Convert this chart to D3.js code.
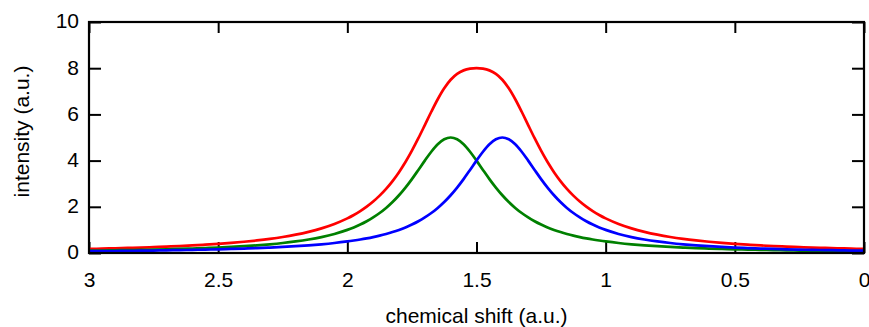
<!DOCTYPE html>
<html>
<head>
<meta charset="utf-8">
<script src="https://cdn.jsdelivr.net/npm/d3@7"></script>
<style>
  html, body { margin: 0; padding: 0; background: #fff; }
  svg { display: block; }
  text { font-family: "Liberation Sans", Arial, Helvetica, sans-serif; }
</style>
</head>
<body>
<svg id="chart" width="869" height="327"></svg>
<script>
// chemical shift positions (a.u.)
const shift = [0.00,0.05,0.10,0.15,0.20,0.25,0.30,0.35,0.40,0.45,0.50,0.55,0.60,0.65,0.70,0.75,0.80,0.85,0.90,0.95,
  1.000,1.025,1.050,1.075,1.100,1.125,1.150,1.175,1.200,1.225,1.250,1.275,1.300,1.325,1.350,1.375,1.400,1.425,1.450,1.475,
  1.500,1.525,1.550,1.575,1.600,1.625,1.650,1.675,1.700,1.725,1.750,1.775,1.800,1.825,1.850,1.875,1.900,1.925,1.950,1.975,
  2.000,2.05,2.10,2.15,2.20,2.25,2.30,2.35,2.40,2.45,2.50,2.55,2.60,2.65,2.70,2.75,2.80,2.85,2.90,2.95,3.00];

// green peak (centred near 1.6)
const greenPeak = [0.077,0.082,0.087,0.093,0.100,0.107,0.116,0.125,0.135,0.147,0.160,0.175,0.192,0.212,0.235,0.262,0.294,0.332,0.377,0.432,
  0.500,0.540,0.584,0.634,0.690,0.753,0.825,0.907,1.000,1.107,1.231,1.373,1.538,1.730,1.951,2.207,2.500,2.832,3.200,3.596,
  4.000,4.384,4.706,4.923,5.000,4.923,4.706,4.384,4.000,3.596,3.200,2.832,2.500,2.207,1.951,1.730,1.538,1.373,1.231,1.107,
  1.000,0.825,0.690,0.584,0.500,0.432,0.377,0.332,0.294,0.262,0.235,0.212,0.192,0.175,0.160,0.147,0.135,0.125,0.116,0.107,0.100];

// blue peak (centred near 1.4)
const bluePeak = [0.100,0.107,0.116,0.125,0.135,0.147,0.160,0.175,0.192,0.212,0.235,0.262,0.294,0.332,0.377,0.432,0.500,0.584,0.690,0.825,
  1.000,1.107,1.231,1.373,1.538,1.730,1.951,2.207,2.500,2.832,3.200,3.596,4.000,4.384,4.706,4.923,5.000,4.923,4.706,4.384,
  4.000,3.596,3.200,2.832,2.500,2.207,1.951,1.730,1.538,1.373,1.231,1.107,1.000,0.907,0.825,0.753,0.690,0.634,0.584,0.540,
  0.500,0.432,0.377,0.332,0.294,0.262,0.235,0.212,0.192,0.175,0.160,0.147,0.135,0.125,0.116,0.107,0.100,0.093,0.087,0.082,0.077];

// red total envelope
const redTotal = [0.177,0.189,0.203,0.218,0.235,0.254,0.276,0.300,0.327,0.359,0.395,0.437,0.486,0.544,0.612,0.694,0.794,0.916,1.067,1.257,
  1.500,1.647,1.815,2.007,2.228,2.483,2.776,3.114,3.500,3.939,4.431,4.969,5.538,6.114,6.657,7.130,7.500,7.755,7.906,7.980,
  8.000,7.980,7.906,7.755,7.500,7.130,6.657,6.114,5.538,4.969,4.431,3.939,3.500,3.114,2.776,2.483,2.228,2.007,1.815,1.647,
  1.500,1.257,1.067,0.916,0.794,0.694,0.612,0.544,0.486,0.437,0.395,0.359,0.327,0.300,0.276,0.254,0.235,0.218,0.203,0.189,0.177];

const xTicks = [3, 2.5, 2, 1.5, 1, 0.5, 0];
const yTicks = [0, 2, 4, 6, 8, 10];
const xTickLabels = ["3", "2.5", "2", "1.5", "1", "0.5", "0"];
const yTickLabels = ["0", "2", "4", "6", "8", "10"];
const xTitle = "chemical shift (a.u.)";
const yTitle = "intensity (a.u.)";

const seriesList = [
  { name: "total", values: redTotal, color: "#ff0000" },
  { name: "peak A", values: greenPeak, color: "#008000" },
  { name: "peak B", values: bluePeak, color: "#0000ff" }
];

const svg = d3.select("#chart");
const L = 89, R = 864, T = 22, B = 253;

const x = d3.scaleLinear().domain([3, 0]).range([L, R]);
const y = d3.scaleLinear().domain([0, 10]).range([B, T]);

const fontSize = 21;

// bottom axis (ticks inward)
const gB = svg.append("g").attr("transform", `translate(0,${B})`)
  .call(d3.axisBottom(x).tickValues(xTicks).tickSize(-11).tickPadding(19)
    .tickFormat((d, i) => xTickLabels[i]));
// top axis
const gT = svg.append("g").attr("transform", `translate(0,${T})`)
  .call(d3.axisTop(x).tickValues(xTicks).tickSize(-11).tickFormat(""));
// left axis
const gL = svg.append("g").attr("transform", `translate(${L},0)`)
  .call(d3.axisLeft(y).tickValues(yTicks).tickSize(-12).tickPadding(10)
    .tickFormat((d, i) => yTickLabels[i]));
// right axis
const gR = svg.append("g").attr("transform", `translate(${R},0)`)
  .call(d3.axisRight(y).tickValues(yTicks).tickSize(-12).tickFormat(""));

[gB, gT, gL, gR].forEach(g => {
  g.select(".domain").remove();
  g.selectAll(".tick line").attr("stroke", "#000").attr("stroke-width", 2);
  g.selectAll(".tick text").attr("fill", "#000").style("font-size", fontSize + "px")
    .style("font-family", '"Liberation Sans", Arial, sans-serif');
});
gL.selectAll(".tick text").attr("dy", "0.28em");

// curves
const line = d3.line()
  .x((d, i) => x(shift[i]))
  .y(d => y(d))
  .curve(d3.curveCatmullRom.alpha(0.5));

svg.append("clipPath").attr("id", "clip")
  .append("rect").attr("x", L).attr("y", T).attr("width", R - L).attr("height", B - T);

svg.append("g").attr("clip-path", "url(#clip)")
  .selectAll("path.series")
  .data(seriesList)
  .join("path")
  .attr("class", "series")
  .attr("fill", "none")
  .attr("stroke", d => d.color)
  .attr("stroke-width", 2.7)
  .attr("stroke-linejoin", "round")
  .attr("d", d => line(d.values));

// frame
svg.append("rect")
  .attr("x", L).attr("y", T)
  .attr("width", R - L).attr("height", B - T)
  .attr("fill", "none").attr("stroke", "#000").attr("stroke-width", 2.2);

// titles
svg.append("text")
  .attr("x", (L + R) / 2).attr("y", 323)
  .attr("text-anchor", "middle")
  .style("font-size", fontSize + "px")
  .attr("fill", "#000")
  .text(xTitle);

svg.append("text")
  .attr("transform", `translate(29,${131.5}) rotate(-90)`)
  .attr("text-anchor", "middle")
  .style("font-size", fontSize + "px")
  .attr("fill", "#000")
  .text(yTitle);
</script>
</body>
</html>
